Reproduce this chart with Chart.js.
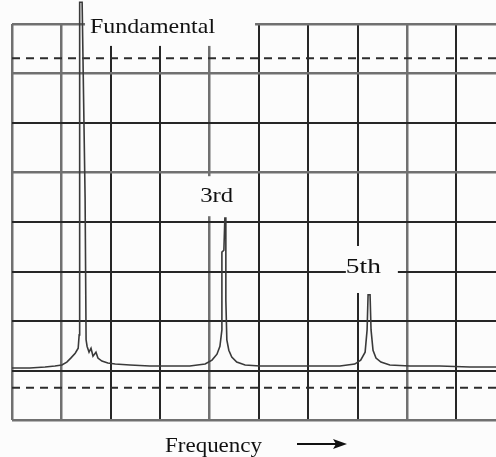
<!DOCTYPE html>
<html lang="en">
<head>
<meta charset="UTF-8">
<title>Harmonic spectrum</title>
<script src="https://cdn.jsdelivr.net/npm/chart.js"></script>
<style>
  html, body { margin: 0; padding: 0; background: #fcfcfc; }
  canvas { display: block; }
</style>
</head>
<body>
<canvas id="spectrum" width="496" height="457"></canvas>
<script>
// grid divisions: frequency across, level up
const freqTicks = [0, 1, 2, 3, 4, 5, 6, 7, 8, 9];
const levelTicks = [0, 1, 2, 3, 4, 5, 6, 7, 8];

// analyser trace in divisions
const traceFreq = [
  0, 0.36, 0.67, 0.87, 1.01, 1.11, 1.19, 1.28, 1.34, 1.36, 1.37, 1.42, 1.48, 1.50, 1.52, 1.56, 1.60, 1.64, 1.70, 1.74, 1.82, 1.94, 2.09, 2.39, 2.79, 3.20, 3.60,
  3.91, 4.05, 4.15, 4.21, 4.25, 4.25, 4.29, 4.31, 4.33, 4.33, 4.35, 4.39, 4.45, 4.55, 4.72, 5.02, 5.63, 6.23, 6.64,
  6.94, 7.06, 7.15, 7.19, 7.21, 7.25, 7.27, 7.31, 7.37, 7.47, 7.65, 8.06, 8.66, 9.27, 9.80
];
const traceLevel = [
  1.05, 1.05, 1.07, 1.09, 1.11, 1.17, 1.25, 1.35, 1.45, 1.72, 8.44, 8.44, 4.50, 1.62, 1.49, 1.37, 1.45, 1.29, 1.37, 1.25, 1.19, 1.15, 1.13, 1.11, 1.09, 1.09, 1.09,
  1.13, 1.21, 1.33, 1.49, 1.82, 3.39, 3.43, 4.08, 4.08, 2.42, 1.62, 1.41, 1.27, 1.17, 1.11, 1.09, 1.09, 1.09, 1.09,
  1.13, 1.21, 1.37, 1.82, 2.53, 2.53, 1.82, 1.41, 1.25, 1.17, 1.11, 1.09, 1.09, 1.07, 1.07
];

// dashed reference levels
const refLevels = [0.65, 7.31];

// harmonic labels and where their text starts (left edge, baseline)
const peakLabels = ['Fundamental', '3rd', '5th'];
const labelFreq = [1.58, 3.81, 6.76];
const labelLevel = [7.82, 4.40, 2.97];

const axisLabel = 'Frequency';

// -------- styling --------
const BG = '#fcfcfc';
const INK = '#111';
const GRID_DARK = '#262626';
const GRID_GRAY = '#707070';
const grayFreqLines = [0, 1, 4, 8];
const grayLevelLines = [0, 5, 7, 8];
// white patches behind each label, relative to the text anchor, plus text width
const labelBoxes = [
  { dx: -5, dy: -33, w: 170, h: 46, textW: 125 },
  { dx: -5, dy: -26, w: 50, h: 40, textW: 33 },
  { dx: 0, dy: -27, w: 52, h: 47, textW: 35 }
];
const FONT = '21px "Liberation Serif", "Times New Roman", serif';

function drawFitted(ctx, text, x, y, width) {
  const natural = ctx.measureText(text).width;
  ctx.save();
  ctx.translate(x, y);
  ctx.scale(width / natural, 1);
  ctx.fillText(text, 0, 0);
  ctx.restore();
}

const screenPlugin = {
  id: 'screen',
  beforeDraw(chart) {
    const { ctx, width, height } = chart;
    ctx.save();
    ctx.fillStyle = BG;
    ctx.fillRect(0, 0, width, height);
    ctx.restore();
  },
  afterDatasetsDraw(chart) {
    const { ctx, scales } = chart;
    ctx.save();
    ctx.font = FONT;
    ctx.textBaseline = 'alphabetic';
    peakLabels.forEach((text, i) => {
      const px = scales.x.getPixelForValue(labelFreq[i]);
      const py = scales.y.getPixelForValue(labelLevel[i]);
      const b = labelBoxes[i];
      ctx.fillStyle = BG;
      ctx.fillRect(px + b.dx, py + b.dy, b.w, b.h);
      ctx.fillStyle = INK;
      drawFitted(ctx, text, px, py, b.textW);
    });
    ctx.restore();
  },
  afterDraw(chart) {
    const { ctx, chartArea } = chart;
    ctx.save();
    ctx.font = FONT;
    ctx.fillStyle = INK;
    drawFitted(ctx, axisLabel, 165, chartArea.bottom + 32, 97);
    // arrow
    const ay = chartArea.bottom + 24;
    ctx.strokeStyle = INK;
    ctx.lineWidth = 2;
    ctx.beginPath();
    ctx.moveTo(297, ay);
    ctx.lineTo(336, ay);
    ctx.stroke();
    ctx.beginPath();
    ctx.moveTo(347, ay);
    ctx.lineTo(333, ay - 5);
    ctx.lineTo(336, ay);
    ctx.lineTo(333, ay + 5);
    ctx.closePath();
    ctx.fill();
    ctx.restore();
  }
};

const traceData = traceFreq.map((f, i) => ({ x: f, y: traceLevel[i] }));
const refDatasets = refLevels.map(level => ({
  data: [{ x: 0, y: level }, { x: 9.8, y: level }],
  borderColor: '#2c2c2c',
  borderWidth: 2,
  borderDash: [8, 6],
  pointRadius: 0
}));

new Chart(document.getElementById('spectrum'), {
  type: 'line',
  data: {
    datasets: [
      {
        data: traceData,
        borderColor: '#3a3a3a',
        borderWidth: 1.6,
        pointRadius: 0,
        tension: 0,
        clip: false
      },
      ...refDatasets
    ]
  },
  options: {
    responsive: false,
    animation: false,
    layout: { padding: { left: 12, top: 24, right: 0, bottom: 37 } },
    plugins: { legend: { display: false }, tooltip: { enabled: false } },
    scales: {
      x: {
        type: 'linear',
        min: 0,
        max: 9.8,
        afterBuildTicks: s => { s.ticks = freqTicks.map(v => ({ value: v })); },
        ticks: { display: false },
        border: { display: false },
        grid: {
          drawTicks: false,
          color: c => grayFreqLines.includes(c.tick.value) ? GRID_GRAY : GRID_DARK,
          lineWidth: c => grayFreqLines.includes(c.tick.value) ? 2.5 : 2
        }
      },
      y: {
        min: 0,
        max: 8,
        afterBuildTicks: s => { s.ticks = levelTicks.map(v => ({ value: v })); },
        ticks: { display: false },
        border: { display: false },
        grid: {
          drawTicks: false,
          color: c => grayLevelLines.includes(c.tick.value) ? GRID_GRAY : GRID_DARK,
          lineWidth: c => grayLevelLines.includes(c.tick.value) ? 2.5 : 2
        }
      }
    }
  },
  plugins: [screenPlugin]
});
</script>
</body>
</html>
